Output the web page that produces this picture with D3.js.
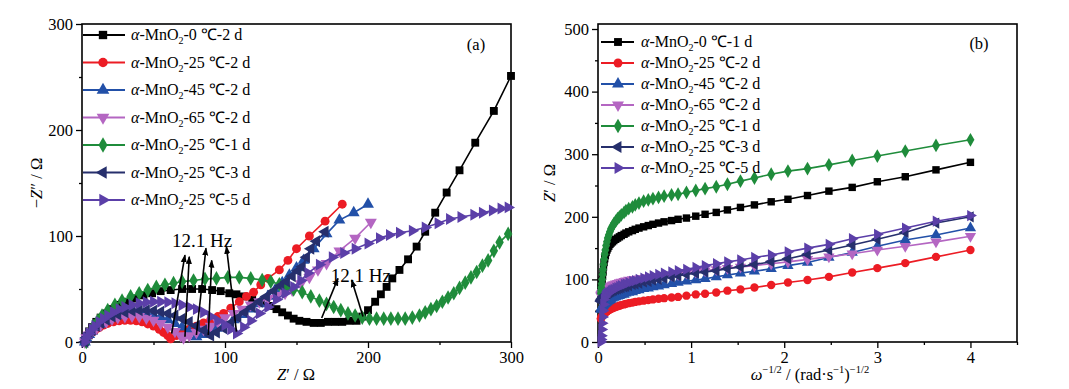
<!DOCTYPE html>
<html><head><meta charset="utf-8">
<script src="https://cdn.jsdelivr.net/npm/d3@7"></script>
<style>
body{margin:0;background:#fff;}
text{font-family:"Liberation Serif","Times New Roman",serif;}
</style></head>
<body><svg id="c" width="1069" height="389"></svg>
<script>
// ---------- DATA ----------
const seriesNames = ["0 ℃-2 d","25 ℃-2 d","45 ℃-2 d","65 ℃-2 d","25 ℃-1 d","25 ℃-3 d","25 ℃-5 d"];
const seriesNamesB = ["0 ℃-1 d","25 ℃-2 d","45 ℃-2 d","65 ℃-2 d","25 ℃-1 d","25 ℃-3 d","25 ℃-5 d"];
const colors = ["#000000","#ec1c24","#2250a8","#b466c2","#1f8c3b","#262f6c","#5b3fa8"];
const shapes = ["square","circle","up","down","diamond","left","right"];

// Panel (a): Nyquist, [Z', -Z'']
const nyq0C2d = [[2,0],[3,5],[5,10],[7,14],[10,19],[13,23],[17,27],[21,31],[26,35],[31,38],[37,41],[43,44],[49,46],[55,48],[62,49],[70,50],[77,50],[84,50],[91,49],[97,48],[103,46],[108,45],[113,43],[119,40],[125,37],[131,34],[136,31],[140,28],[144,25],[148,22],[152,20],[157,19],[162,18],[167,18],[172,19],[177,19],[182,19],[187,20],[192,20],[196,24],[200,30],[205,38],[209,45],[213,52],[217,60],[222,68],[228,78],[234,90],[240,104],[247,122],[255,141],[264,162],[275,188],[288,218],[300,251]];
const nyq25C2d = [[2,0],[3,3],[5,6],[7,9],[9,11],[12,13.5],[15,16],[18,17.5],[22,19],[26,20],[30,20.5],[34,20.5],[38,20],[42,19],[46,17],[50,15],[54,12],[57,9],[60,6],[62,3],[66,6],[70,9],[75,12],[80,15],[85,18],[90,21],[95,24],[99,27],[104,32],[110,38],[115,43],[120,47],[125,54],[130,60],[138,68],[144,77],[150,88],[159,100],[170,114],[182,130]];
const nyq45C2d = [[2,0],[3,4],[5,7],[7,10],[10,14],[13,17],[17,20],[21,23],[25,25],[30,26.5],[35,27.5],[40,27.5],[45,27],[50,25.5],[55,23.5],[60,21],[65,17.5],[70,14],[75,10],[80,5],[84,7],[89,10],[94,13],[100,17],[106,21],[112,26],[118,31],[124,36],[130,43],[135,49],[140,56],[145,63],[150,70],[155,77],[162,88],[171,102],[180,115],[190,122],[200,130]];
const nyq65C2d = [[2,0],[3,4],[5,7],[7,10],[10,13],[13,16],[17,19],[21,21.5],[25,23],[30,24],[35,24.5],[40,24],[45,22.5],[50,20.5],[55,17.5],[60,14],[65,10],[69,6],[71,4],[75,6],[80,9],[85,12],[90,15],[95,19],[100,23],[106,27],[112,31],[118,35],[124,38],[130,41],[136,44],[142,46],[147,49],[153,55],[159,61],[165,68],[171,74],[180,86],[191,98],[202,113]];
const nyq25C1d = [[3,0],[4,5],[6,10],[8,15],[11,20],[14,25],[18,30],[23,35],[28,39],[34,43],[40,46],[46,49],[52,52],[58,54],[64,55.5],[70,57],[78,58],[86,59.5],[94,60],[102,61],[110,61],[118,60],[126,58.5],[132,57],[138,54.5],[143,52],[148,49.5],[154,47],[160,43],[166,39],[171,36],[176,33],[181,30],[186,27],[191,25],[196,23],[201,22],[206,22],[211,22],[216,22],[221,22],[226,22],[231,23],[236,25],[240,28],[244,31],[248,34],[252,38],[256,42],[260,46],[264,51],[268,56],[272,61],[276,66],[280,72],[284,77],[288,86],[292,94],[298,102]];
const nyq25C3d = [[2,0],[3,4],[5,8],[7,11],[10,15],[13,18],[17,21],[21,24],[25,26],[30,28],[35,29.5],[40,30],[45,30],[50,29.5],[55,28.5],[60,27],[65,25],[70,22],[75,19],[80,15],[85,11],[90,6],[94,9],[99,13],[104,18],[109,23],[114,28],[119,33],[124,38],[129,43],[134,48],[139,53],[143,57],[147,62],[151,67],[154,71],[157,80],[160,88],[164,95],[170,104]];
const nyq25C5d = [[2,0],[3,4],[5,8],[7,12],[9,15],[12,19],[15,22],[18,25],[22,28],[26,31],[30,33],[35,35],[40,36.5],[45,37.5],[50,38],[55,38],[60,37.5],[65,36.5],[70,35],[75,33],[80,31],[85,28],[90,24],[95,20],[100,16],[104,12],[108,8],[113,14],[118,20],[124,27],[130,33],[136,40],[142,46],[148,52],[153,58],[158,65],[166,73],[175,80],[183,84],[191,88],[200,93],[208,98],[215,101],[222,103],[231,105],[240,108],[249,112],[257,116],[265,118],[274,120],[280,122],[287,124],[293,126],[298,127]];
const nyquist = [nyq0C2d,nyq25C2d,nyq45C2d,nyq65C2d,nyq25C1d,nyq25C3d,nyq25C5d];

// Panel (b): Z' vs omega^-1/2 (shared x values)
const omegaInvSqrt = [4.00,3.63,3.30,3.00,2.73,2.48,2.25,2.04,1.86,1.68,1.53,1.39,1.27,1.15,1.05,0.95,0.86,0.79,0.71,0.65,0.59,0.54,0.49,0.44,0.40,0.37,0.33,0.30,0.28,0.25,0.23,0.21,0.19,0.17,0.155,0.14,0.128,0.116,0.105,0.096,0.087,0.079,0.072,0.065,0.059,0.054,0.049,0.044,0.040,0.036,0.033,0.030];
const zr0C1d  = [287,275,264,256,247,241,234,228,224,219,215,211,207,204,201,198,196,194,192,190,188,186,184,182,180,178,176,174,172,170,168,166,164,162,160,158,156,153,150,147,143,138,133,127,120,112,105,98,92,87,82,78];
const zr25C2d = [147,136,126,118,111,104,99,95,91,87,84,82,79,77,76,74,72,71,70,69,68,67,66,65,64,63,62,61,60,59,58,57,56,55,54,53,52,51,50,49,48,47,46,45,44,43,42,41,40,39,38,37];
const zr45C2d = [182,171,163,153,143,135,127,122,117,113,110,107,104,101,99,97,95,93,91,89,88,86,85,83,82,80,79,78,76,75,74,73,72,71,70,68,67,66,65,64,63,62,61,60,59,58,57,56,55,54,53,52];
const zr65C2d = [169,160,153,147,141,136,132,128,125,122,120,118,116,114,112,110,108,107,106,105,104,103,102,101,100,100,99,98,97,96,95,94,93,92,91,90,89,88,87,86,85,84,83,82,81,80,79,78,77,76,75,74];
const zr25C1d = [323,314,305,297,290,283,277,273,268,262,257,252,248,245,242,239,236,235,233,231,229,227,225,222,219,216,213,210,207,203,200,197,193,189,185,181,176,171,166,160,154,147,140,132,124,116,108,100,93,87,82,78];
const zr25C3d = [200,190,175,164,155,147,140,133,128,124,120,117,114,112,110,108,106,104,102,100,99,97,96,94,93,92,90,89,88,87,86,85,84,83,82,81,80,79,78,77,76,75,74,73,72,71,70,69,68,67,66,65];
const zr25C5d = [202,193,182,172,165,156,150,144,139,135,131,128,125,122,119,116,114,112,110,108,106,104,102,100,98,97,95,93,92,90,89,87,86,84,83,82,80,79,78,77,76,74,72,68,60,50,40,30,20,10,4,0];
const zReal = [zr0C1d,zr25C2d,zr45C2d,zr65C2d,zr25C1d,zr25C3d,zr25C5d];

// ticks
const ticksA = [0,100,200,300], minorA = [50,150,250];
const ticksBx = [0,1,2,3,4], minorBx = [0.5,1.5,2.5,3.5,4.5];
const ticksBy = [0,100,200,300,400,500], minorBy = [50,150,250,350,450];

// annotations (data units): [x1,y1,x2,y2] tail -> head
const arrowsA = [[62.7,8,72,82],[72,5,75,80.5],[80,6.6,86.7,88.5],[88.3,6.6,90.7,77],[108,9.7,101,90],[167.6,22.6,179,60],[196.5,24,188.6,58.5]];
const hzLabels = [{t:"12.1 Hz",x:84,y:90},{t:"12.1 Hz",x:195,y:56.6}];

// ---------- DRAW ----------
const svg = d3.select("#c");
svg.append("defs").append("marker").attr("id","ah").attr("viewBox","0 0 10 10")
  .attr("refX",9).attr("refY",5).attr("markerWidth",5).attr("markerHeight",5)
  .attr("orient","auto").append("path").attr("d","M0,1.2L10,5L0,8.8Z").attr("fill","#000");

function sym(shape, size){
  const s = {square:d3.symbolSquare,circle:d3.symbolCircle,diamond:d3.symbolDiamond}[shape] || d3.symbolTriangle;
  return d3.symbol().type(s).size(size)();
}
const rot = {up:0,down:180,left:-90,right:90,square:0,circle:0,diamond:0};

function panel(cfg){
  const g = svg.append("g");
  const x = d3.scaleLinear().domain(cfg.xd).range(cfg.xr);
  const y = d3.scaleLinear().domain(cfg.yd).range(cfg.yr);
  const axX = d3.axisBottom(x).tickValues(cfg.xt).tickSize(6).tickSizeOuter(0).tickPadding(3).tickFormat(d3.format("d"));
  const axXm = d3.axisBottom(x).tickValues(cfg.xm).tickSize(3).tickSizeOuter(0).tickFormat("");
  const axY = d3.axisLeft(y).tickValues(cfg.yt).tickSize(6).tickSizeOuter(0).tickPadding(3);
  const axYm = d3.axisLeft(y).tickValues(cfg.ym).tickSize(3).tickSizeOuter(0).tickFormat("");
  [axX,axXm].forEach(a=>g.append("g").attr("transform",`translate(0,${cfg.yr[0]})`).call(a));
  [axY,axYm].forEach(a=>g.append("g").attr("transform",`translate(${cfg.xr[0]},0)`).call(a));
  g.selectAll(".domain").remove();
  g.selectAll(".tick line").attr("stroke","#000").attr("stroke-width",1.3);
  g.selectAll(".tick text").attr("font-size",16.5).attr("fill","#000").style("font-family","'Liberation Serif',serif");
  g.append("rect").attr("x",cfg.xr[0]).attr("y",cfg.yr[1]).attr("width",cfg.xr[1]-cfg.xr[0]).attr("height",cfg.yr[0]-cfg.yr[1])
    .attr("fill","none").attr("stroke","#000").attr("stroke-width",1.6);
  const line = d3.line().x(d=>x(d[0])).y(d=>y(d[1]));
  cfg.data.forEach((pts,i)=>{
    const sg = g.append("g");
    sg.append("path").attr("d",line(pts)).attr("fill","none").attr("stroke",colors[i]).attr("stroke-width",1.6);
    sg.selectAll("path.m").data(pts).join("path").attr("class","m")
      .attr("d",sym(shapes[i],cfg.ms)).attr("fill",colors[i])
      .attr("transform",d=>`translate(${x(d[0])},${y(d[1])}) rotate(${rot[shapes[i]]})`);
  });
  cfg.names.forEach((n,i)=>{
    const ly = cfg.leg.y0 + i*cfg.leg.dy;
    g.append("line").attr("x1",cfg.leg.x1).attr("x2",cfg.leg.x2).attr("y1",ly).attr("y2",ly).attr("stroke",colors[i]).attr("stroke-width",1.8);
    g.append("path").attr("d",sym(shapes[i],cfg.lms)).attr("fill",colors[i])
      .attr("transform",`translate(${cfg.leg.mx},${ly}) rotate(${rot[shapes[i]]})`);
    const t = g.append("text").attr("x",cfg.leg.tx).attr("y",ly+5).attr("font-size",16).attr("fill","#000");
    t.append("tspan").attr("font-style","italic").text("α");
    t.append("tspan").text("-MnO");
    t.append("tspan").attr("font-size",10).attr("dy",4).text("2");
    t.append("tspan").attr("dy",-4).text("-"+n);
  });
  g.append("text").attr("x",cfg.tag.x).attr("y",cfg.tag.y).attr("font-size",16.5).attr("text-anchor","middle").text(cfg.tag.t);
  return {g,x,y};
}

const A = panel({xd:[0,300],xr:[82,511],yd:[0,300],yr:[342,24],xt:ticksA,xm:minorA,yt:ticksA,ym:minorA,
  data:nyquist,names:seriesNames,ms:62,lms:70,leg:{y0:35,dy:27.5,x1:83,x2:125,mx:103,tx:131},tag:{t:"(a)",x:476,y:50}});
const B = panel({xd:[0,4.5],xr:[598,1017],yd:[0,508],yr:[342,24],xt:ticksBx,xm:minorBx,yt:ticksBy,ym:minorBy,
  data:zReal.map(v=>v.map((d,j)=>[omegaInvSqrt[j],d])),names:seriesNamesB,ms:55,lms:62,
  leg:{y0:42,dy:21,x1:601,x2:634,mx:618,tx:641},tag:{t:"(b)",x:979,y:49}});

arrowsA.forEach(a=>{
  A.g.append("line").attr("x1",A.x(a[0])).attr("y1",A.y(a[1])).attr("x2",A.x(a[2])).attr("y2",A.y(a[3]))
   .attr("stroke","#000").attr("stroke-width",1.6).attr("marker-end","url(#ah)");
});
hzLabels.forEach(h=>{
  A.g.append("text").attr("x",A.x(h.x)).attr("y",A.y(h.y)).attr("text-anchor","middle").attr("font-size",19).text(h.t);
});

const tA = svg.append("text").attr("transform","translate(42,183) rotate(-90)").attr("text-anchor","middle").attr("font-size",16.5);
tA.append("tspan").text("−"); tA.append("tspan").attr("font-style","italic").text("Z"); tA.append("tspan").text("″ / Ω");
const xA = svg.append("text").attr("x",296).attr("y",380).attr("text-anchor","middle").attr("font-size",16.5);
xA.append("tspan").attr("font-style","italic").text("Z"); xA.append("tspan").text("′ / Ω");
const tB = svg.append("text").attr("transform","translate(555,183) rotate(-90)").attr("text-anchor","middle").attr("font-size",16.5);
tB.append("tspan").attr("font-style","italic").text("Z"); tB.append("tspan").text("′ / Ω");
const xB = svg.append("text").attr("x",810).attr("y",380).attr("text-anchor","middle").attr("font-size",16.5);
xB.append("tspan").attr("font-style","italic").text("ω");
xB.append("tspan").attr("font-size",10.5).attr("dy",-7).text("−1/2");
xB.append("tspan").attr("dy",7).text(" / (rad·s");
xB.append("tspan").attr("font-size",10.5).attr("dy",-7).text("−1");
xB.append("tspan").attr("dy",7).text(")");
xB.append("tspan").attr("font-size",10.5).attr("dy",-7).text("−1/2");
</script></body></html>
